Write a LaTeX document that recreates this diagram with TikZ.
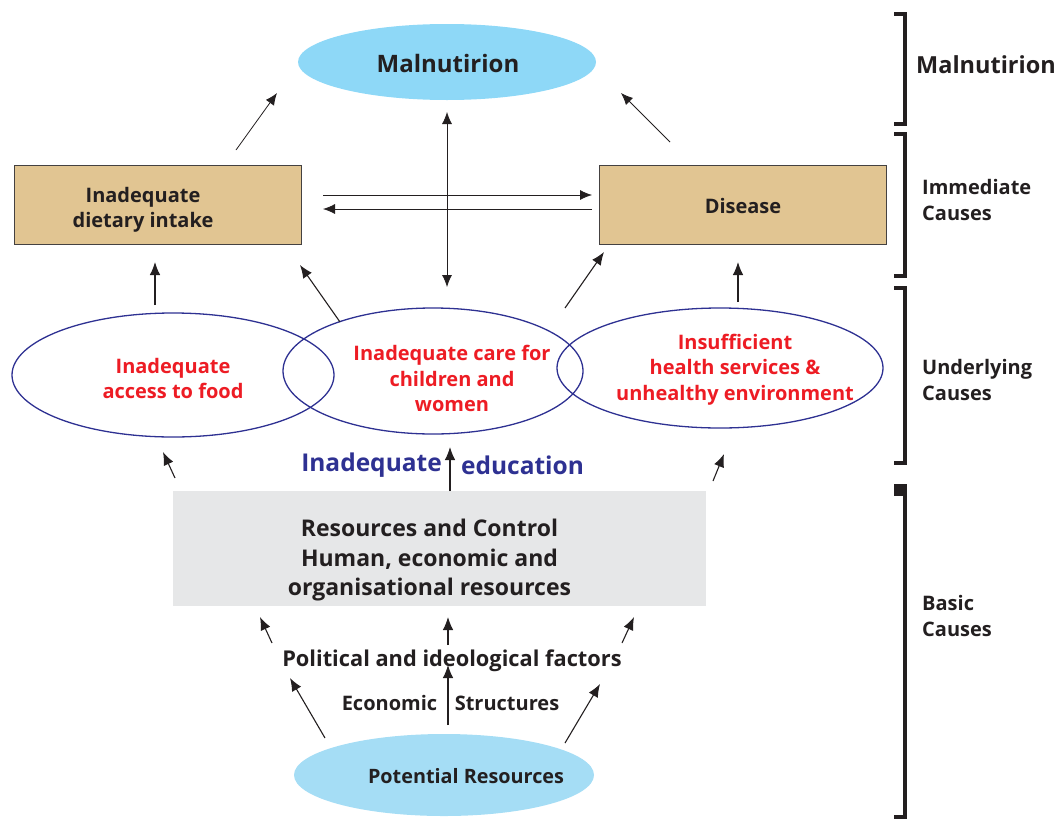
\documentclass[tikz,border=0pt]{standalone}
\usepackage{fontspec}
\setmainfont{Open Sans}
\usetikzlibrary{shapes.geometric,arrows.meta}
\definecolor{skyblue}{HTML}{8ED8F7}
\definecolor{paleblue}{HTML}{A5DDF5}
\definecolor{tan}{HTML}{E1C592}
\definecolor{boxgray}{HTML}{E6E7E8}
\definecolor{navy}{HTML}{2E3192}
\definecolor{alertred}{HTML}{ED1C24}
\definecolor{ink}{HTML}{231F20}
\newcommand{\fsz}[2]{\fontsize{#1}{#2}\bfseries\selectfont}
\begin{document}
\begin{tikzpicture}[x=1pt,y=-1pt,
  txt/.style={font=\fsz{20}{25}, text=ink, align=center, inner sep=0pt},
  redtxt/.style={font=\fsz{20}{25.5}, text=alertred, align=center, inner sep=0pt},
  causebox/.style={draw=ink!85, line width=0.8pt, fill=tan, minimum width=287, minimum height=79, inner sep=0pt},
  ring/.style={ellipse, draw=navy, line width=1.3pt, inner sep=0pt},
  arr/.style={-{Latex[length=13,width=10.5]}, line width=1.1pt, draw=ink},
  thinarr/.style={-{Latex[length=12,width=10]}, line width=0.8pt, draw=ink},
  brk/.style={line width=3.6pt, draw=ink, line cap=butt, line join=miter},
  sidelbl/.style={font=\fsz{20}{26}, text=ink, align=left, anchor=west, inner sep=0pt}
]
\useasboundingbox (0,0) rectangle (1059,822);

% ---- outcome ----
\node[ellipse, fill=skyblue, minimum width=298, minimum height=76, inner sep=0pt] (mal) at (447,62) {};
\node[txt, font=\fsz{24}{28}] (malT) at (448,63) {Malnutirion};

% ---- immediate causes ----
\node[causebox] (diet) at (157.5,204.5) {};
\node[txt] (dietT) at (143,210) {Inadequate\\dietary intake};
\node[causebox] (dis) at (743,204.5) {};
\node[txt] (disT) at (743,206) {Disease};

% ---- underlying causes ----
\node[ring, minimum width=322, minimum height=124] (food) at (173,375) {};
\node[ring, minimum width=300, minimum height=126] (care) at (433,371) {};
\node[ring, minimum width=326, minimum height=120] (health) at (720,368) {};
\node[redtxt] (foodT) at (173,378.5) {Inadequate\\access to food};
\node[redtxt] (careT) at (452,378.5) {Inadequate care for\\children and\\women};
\node[redtxt] (healthT) at (735,369.5) {Insufficient\\health services \&\\unhealthy environment};

\node[txt, font=\fsz{24.5}{28}, text=navy] (eduA) at (371.5,465) {Inadequate};
\node[txt, font=\fsz{24.5}{28}, text=navy] (eduB) at (522.5,465) {education};

% ---- basic causes ----
\node[fill=boxgray, minimum width=533, minimum height=115, inner sep=0pt] (res) at (439.5,548.5) {};
\node[txt, font=\fsz{23}{29.5}] (resT) at (429.5,560.5) {Resources and Control\\Human, economic and\\organisational resources};
\node[txt, font=\fsz{21.8}{25}] (pol) at (452,661) {Political and ideological factors};
\node[txt] (eco) at (389.5,703) {Economic};
\node[txt] (str) at (507,703) {Structures};
\node[ellipse, fill=paleblue, minimum width=300, minimum height=82, inner sep=0pt] (pot) at (444,775) {};
\node[txt, font=\fsz{19.8}{25}] (potT) at (466,776) {Potential Resources};

% ---- arrow end points ----
\coordinate (a1s) at (236,150); \coordinate (a1e) at (277,93);
\coordinate (a2s) at (670,142); \coordinate (a2e) at (621,93);
\coordinate (vtop) at (447,112); \coordinate (vbot) at (447,287);
\coordinate (h1s) at (323,195); \coordinate (h1e) at (592,195);
\coordinate (h2s) at (592,209); \coordinate (h2e) at (323,209);
\coordinate (u1s) at (155,305); \coordinate (u1e) at (155,262);
\coordinate (u2s) at (340,322); \coordinate (u2e) at (300,265);
\coordinate (u3s) at (565,308); \coordinate (u3e) at (604,252);
\coordinate (u4s) at (738,302); \coordinate (u4e) at (738,262);
\coordinate (b1s) at (175,478); \coordinate (b1e) at (163,452);
\coordinate (b2s) at (450,491); \coordinate (b2e) at (450,447);
\coordinate (b3s) at (713,481); \coordinate (b3e) at (724,454);
\coordinate (p1s) at (272,643); \coordinate (p1e) at (260,617);
\coordinate (p2s) at (448,645); \coordinate (p2e) at (448,617);
\coordinate (p3s) at (622,643); \coordinate (p3e) at (634,617);
\coordinate (e1s) at (325,738); \coordinate (e1e) at (290,678);
\coordinate (e2s) at (448,725); \coordinate (e2e) at (448,665);
\coordinate (e3s) at (565,743); \coordinate (e3e) at (600,684);

% ---- arrows ----
\draw[thinarr] (a1s) -- (a1e);
\draw[thinarr] (a2s) -- (a2e);
\draw[thinarr, {Latex[length=12,width=10]}-{Latex[length=12,width=10]}] (vtop) -- (vbot);
\draw[thinarr] (h1s) -- (h1e);
\draw[thinarr] (h2s) -- (h2e);
\foreach \p in {u1,u2,u3,u4,b1,b2,b3,p1,p2,p3,e1,e2,e3}
  \draw[arr] (\p s) -- (\p e);

% ---- level brackets ----
\draw[brk] (894,14) -- (905,14) -- (905,124) -- (894,124);
\draw[brk] (894,134) -- (905,134) -- (905,276) -- (894,276);
\draw[brk] (894,288) -- (905,288) -- (905,463) -- (894,463);
\draw[brk] (905,490) -- (905,817) -- (894,817);
\fill[ink] (894,484) rectangle (907,496);

\node[sidelbl, font=\fsz{23.5}{26}] (lvl1) at (916,65) {Malnutirion};
\node[sidelbl] (lvl2) at (922,200) {Immediate\\Causes};
\node[sidelbl] (lvl3) at (922,380) {Underlying\\Causes};
\node[sidelbl] (lvl4) at (922,616) {Basic\\Causes};
\end{tikzpicture}
\end{document}
